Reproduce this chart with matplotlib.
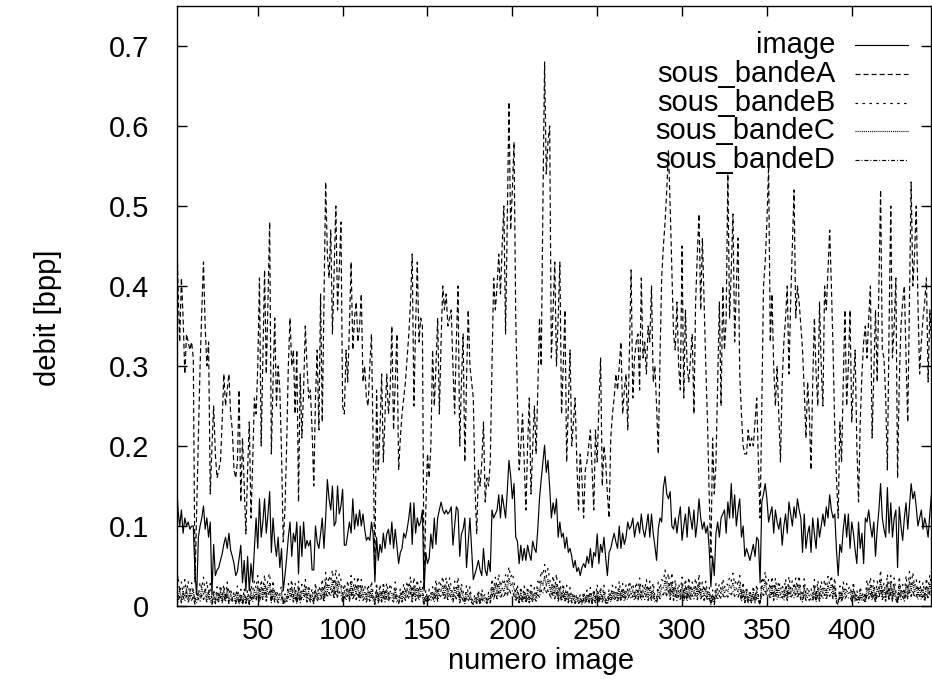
import numpy as np
import matplotlib
matplotlib.use("Agg")
import matplotlib.pyplot as plt

plt.rcParams['font.family'] = ['Liberation Sans', 'DejaVu Sans']
plt.rcParams['lines.scale_dashes'] = False

# debit per frame (A and image in 1/100 and 1/1000 bpp)
image_milli = [
    140, 158, 120, 100, 120, 91, 110, 100, 105, 96, 100, 100, 40, 14, 86, 100, 110, 125, 96, 110,
    86, 105, 14, 77, 38, 45, 48, 57, 65, 77, 86, 72, 91, 70, 62, 53, 38, 43, 60, 76,
    29, 57, 19, 62, 19, 53, 30, 72, 110, 72, 134, 86, 105, 134, 91, 115, 143, 67, 110, 80,
    62, 86, 48, 72, 19, 38, 60, 86, 105, 62, 91, 80, 105, 40, 100, 62, 105, 72, 82, 75,
    82, 45, 45, 100, 80, 72, 90, 110, 72, 110, 158, 134, 120, 150, 100, 105, 150, 115, 125, 146,
    76, 76, 90, 105, 91, 134, 96, 115, 100, 120, 100, 115, 96, 82, 86, 82, 105, 90, 30, 86,
    57, 77, 67, 91, 72, 90, 96, 77, 105, 72, 96, 75, 53, 67, 72, 91, 85, 96, 110, 129,
    77, 129, 91, 110, 100, 105, 120, 19, 67, 53, 60, 90, 72, 110, 77, 110, 120, 130, 120, 115,
    120, 115, 118, 124, 76, 100, 124, 120, 62, 90, 96, 110, 48, 80, 110, 72, 33, 40, 48, 57,
    45, 38, 72, 45, 38, 57, 43, 120, 110, 115, 120, 139, 110, 139, 125, 110, 143, 182, 163, 134,
    153, 86, 81, 53, 76, 57, 72, 57, 76, 65, 57, 81, 72, 67, 96, 134, 158, 180, 201, 167,
    182, 148, 110, 129, 115, 134, 86, 105, 86, 91, 72, 86, 67, 72, 62, 48, 57, 43, 48, 38,
    48, 53, 48, 62, 53, 72, 48, 67, 62, 90, 53, 77, 67, 86, 60, 38, 67, 72, 82, 91,
    80, 72, 100, 72, 91, 77, 86, 105, 96, 100, 110, 86, 100, 105, 91, 115, 96, 86, 100, 115,
    86, 115, 91, 75, 57, 96, 110, 105, 148, 162, 140, 134, 143, 100, 96, 110, 91, 110, 124, 82,
    100, 115, 86, 124, 110, 96, 120, 86, 105, 134, 110, 96, 105, 91, 100, 72, 24, 62, 38, 91,
    105, 86, 110, 115, 120, 91, 130, 110, 153, 110, 139, 100, 120, 134, 86, 100, 62, 72, 65, 57,
    67, 77, 62, 86, 82, 29, 130, 140, 153, 134, 105, 115, 124, 91, 120, 105, 96, 110, 76, 100,
    115, 91, 130, 115, 100, 124, 110, 134, 120, 110, 67, 115, 72, 90, 100, 67, 110, 90, 72, 110,
    86, 100, 115, 100, 124, 110, 139, 120, 110, 115, 70, 38, 77, 67, 96, 115, 86, 115, 72, 105,
    91, 70, 53, 105, 72, 91, 53, 110, 105, 120, 100, 86, 105, 62, 96, 120, 153, 110, 96, 86,
    148, 91, 129, 86, 110, 120, 48, 124, 100, 82, 110, 129, 96, 124, 153, 134, 143, 124, 100, 110,
    120, 96, 110, 100, 86, 115, 140,
]

bandeA_centi = [
    47, 49, 40, 33, 41, 36, 29, 34, 33, 32, 33, 31, 3, 12, 21, 30, 37, 43, 35, 30,
    33, 14, 20, 25, 19, 16, 17, 18, 23, 29, 25, 27, 29, 24, 22, 17, 16, 18, 27, 13,
    21, 15, 9, 17, 23, 11, 18, 26, 24, 30, 41, 20, 31, 42, 29, 38, 48, 19, 28, 36,
    25, 30, 27, 19, 8, 12, 20, 30, 36, 30, 32, 24, 32, 13, 29, 21, 27, 35, 30, 26,
    27, 22, 15, 26, 32, 22, 39, 23, 38, 53, 44, 41, 47, 34, 42, 50, 37, 42, 48, 25,
    24, 32, 28, 35, 43, 32, 36, 38, 33, 35, 39, 28, 30, 26, 25, 30, 34, 20, 4, 27,
    17, 22, 29, 18, 24, 29, 24, 27, 35, 22, 28, 34, 17, 21, 24, 26, 28, 31, 34, 38,
    44, 25, 35, 43, 33, 36, 35, 2, 12, 19, 16, 20, 32, 25, 30, 36, 24, 33, 40, 37,
    39, 35, 36, 37, 30, 24, 33, 40, 20, 28, 34, 18, 28, 37, 30, 28, 26, 15, 9, 17,
    15, 18, 23, 13, 16, 15, 18, 30, 41, 37, 40, 44, 39, 45, 50, 34, 48, 63, 47, 52,
    58, 36, 26, 17, 20, 24, 18, 12, 20, 26, 14, 20, 25, 19, 27, 36, 30, 50, 68, 54,
    58, 60, 31, 37, 43, 30, 36, 43, 24, 30, 37, 18, 25, 32, 20, 23, 26, 18, 12, 19,
    16, 11, 17, 18, 20, 22, 17, 12, 22, 18, 25, 31, 15, 20, 18, 14, 11, 21, 24, 26,
    29, 27, 30, 33, 24, 27, 29, 22, 32, 42, 26, 31, 33, 34, 27, 41, 31, 33, 29, 35,
    33, 40, 28, 30, 25, 19, 31, 41, 45, 48, 52, 57, 50, 42, 34, 32, 38, 30, 27, 45,
    26, 37, 30, 28, 31, 34, 24, 38, 44, 49, 37, 46, 38, 30, 23, 14, 6, 21, 14, 18,
    28, 38, 25, 40, 32, 36, 54, 36, 42, 49, 33, 40, 46, 29, 24, 20, 19, 19, 22, 20,
    21, 20, 23, 26, 18, 11, 25, 40, 43, 48, 55, 33, 39, 30, 25, 30, 24, 18, 28, 33,
    36, 40, 29, 38, 45, 52, 36, 40, 38, 35, 32, 27, 21, 28, 24, 17, 28, 36, 29, 25,
    38, 30, 25, 40, 37, 42, 47, 40, 32, 22, 16, 11, 23, 18, 28, 37, 25, 30, 37, 23,
    28, 32, 20, 13, 23, 29, 33, 35, 31, 36, 40, 21, 29, 37, 28, 40, 52, 32, 31, 26,
    17, 35, 50, 31, 35, 41, 16, 28, 35, 38, 40, 31, 23, 38, 53, 40, 44, 50, 38, 29,
    33, 36, 38, 41, 28, 37, 33,
]

bandeB_milli = [
    32, 20, 38, 18, 30, 14, 33, 16, 31, 12, 29, 17, 6, 20, 12, 30, 22, 36, 15, 31,
    13, 28, 5, 21, 8, 24, 10, 26, 14, 27, 9, 30, 15, 22, 8, 19, 11, 25, 6, 21,
    5, 22, 6, 20, 4, 26, 18, 31, 22, 38, 16, 33, 20, 39, 14, 35, 41, 10, 32, 13,
    20, 11, 17, 25, 4, 15, 9, 28, 20, 33, 12, 29, 8, 31, 11, 27, 18, 33, 14, 26,
    12, 22, 8, 29, 13, 25, 17, 34, 14, 42, 25, 38, 30, 45, 22, 46, 24, 40, 33, 15,
    28, 18, 32, 15, 38, 19, 34, 20, 37, 16, 33, 18, 26, 14, 27, 16, 31, 15, 5, 29,
    10, 27, 12, 30, 13, 29, 15, 28, 20, 14, 30, 13, 8, 22, 12, 28, 16, 31, 22, 37,
    13, 36, 18, 33, 17, 31, 24, 3, 20, 8, 21, 15, 24, 14, 33, 15, 32, 26, 37, 20,
    36, 19, 35, 24, 12, 31, 22, 36, 10, 28, 18, 8, 26, 17, 24, 9, 6, 15, 8, 20,
    7, 21, 12, 15, 8, 17, 11, 34, 20, 36, 22, 40, 24, 33, 26, 39, 30, 49, 36, 41,
    30, 16, 27, 9, 24, 10, 25, 9, 24, 10, 26, 11, 23, 15, 31, 26, 44, 38, 52, 36,
    47, 34, 20, 38, 22, 40, 15, 31, 15, 28, 12, 26, 11, 23, 10, 17, 8, 15, 7, 14,
    6, 18, 8, 20, 9, 23, 7, 21, 10, 27, 9, 24, 11, 26, 9, 5, 21, 12, 26, 16,
    24, 14, 31, 13, 28, 14, 27, 19, 31, 21, 28, 16, 30, 18, 35, 17, 28, 20, 33, 18,
    31, 16, 29, 12, 9, 30, 20, 33, 31, 45, 28, 41, 19, 42, 17, 33, 16, 28, 18, 36,
    15, 34, 14, 36, 18, 30, 22, 35, 19, 40, 20, 30, 18, 31, 16, 24, 4, 20, 6, 28,
    19, 28, 21, 34, 23, 29, 26, 36, 31, 41, 27, 33, 25, 38, 14, 30, 10, 24, 9, 20,
    10, 25, 9, 27, 13, 5, 36, 28, 43, 26, 33, 20, 37, 16, 35, 19, 31, 20, 27, 17,
    34, 16, 37, 22, 32, 21, 35, 22, 38, 18, 12, 34, 15, 24, 17, 22, 14, 33, 12, 32,
    14, 31, 21, 33, 19, 37, 27, 38, 20, 35, 10, 6, 25, 11, 30, 20, 28, 21, 25, 14,
    30, 11, 20, 10, 24, 13, 18, 9, 33, 20, 36, 16, 32, 10, 31, 22, 45, 17, 29, 15,
    40, 16, 38, 15, 35, 18, 8, 37, 17, 27, 14, 38, 20, 43, 27, 42, 24, 33, 18, 31,
    17, 30, 14, 35, 21, 39, 24,
]

bandeC_milli = [
    14, 25, 10, 21, 8, 19, 12, 22, 9, 18, 13, 20, 5, 8, 16, 11, 23, 14, 21, 10,
    19, 9, 4, 15, 6, 17, 8, 19, 7, 20, 9, 22, 6, 15, 10, 13, 5, 17, 4, 14,
    3, 15, 5, 13, 3, 18, 9, 21, 12, 25, 10, 24, 13, 27, 11, 23, 28, 7, 22, 9,
    15, 7, 12, 17, 3, 10, 6, 20, 13, 24, 9, 20, 5, 22, 8, 19, 13, 23, 9, 18,
    8, 14, 6, 20, 10, 17, 12, 24, 9, 30, 18, 27, 20, 32, 15, 31, 17, 29, 22, 10,
    19, 12, 22, 10, 27, 13, 24, 14, 26, 11, 23, 12, 18, 9, 19, 11, 22, 10, 4, 20,
    7, 18, 8, 21, 9, 20, 10, 19, 14, 9, 21, 8, 5, 16, 8, 19, 11, 22, 15, 26,
    9, 25, 12, 23, 11, 22, 17, 2, 13, 6, 14, 10, 17, 9, 23, 10, 22, 18, 26, 13,
    25, 13, 24, 16, 8, 22, 15, 26, 7, 20, 12, 5, 18, 11, 17, 6, 4, 10, 5, 14,
    4, 15, 8, 11, 5, 12, 7, 24, 14, 26, 15, 28, 17, 23, 18, 28, 20, 35, 25, 29,
    21, 10, 19, 6, 17, 7, 18, 6, 17, 7, 18, 8, 16, 10, 22, 18, 31, 26, 37, 25,
    33, 23, 14, 26, 15, 28, 10, 22, 10, 20, 8, 18, 7, 16, 7, 12, 5, 11, 4, 10,
    4, 12, 5, 14, 6, 16, 5, 15, 7, 19, 6, 17, 8, 18, 6, 3, 15, 8, 18, 11,
    17, 9, 22, 9, 20, 10, 19, 13, 22, 14, 20, 11, 21, 12, 25, 11, 20, 14, 24, 12,
    22, 11, 20, 8, 6, 21, 14, 23, 22, 32, 19, 29, 13, 30, 12, 24, 11, 20, 12, 26,
    10, 25, 10, 26, 12, 22, 15, 25, 13, 29, 14, 21, 12, 22, 11, 17, 3, 14, 4, 20,
    13, 20, 15, 24, 16, 21, 18, 26, 22, 29, 19, 23, 17, 27, 10, 21, 7, 17, 6, 14,
    7, 18, 6, 19, 9, 3, 26, 20, 31, 18, 23, 14, 26, 11, 25, 13, 22, 14, 19, 12,
    24, 11, 26, 15, 22, 15, 25, 16, 27, 13, 8, 24, 11, 17, 12, 15, 10, 23, 8, 23,
    10, 22, 15, 23, 13, 26, 19, 27, 14, 25, 7, 4, 17, 8, 21, 14, 20, 15, 18, 10,
    21, 8, 14, 7, 17, 9, 13, 6, 23, 14, 26, 11, 23, 7, 22, 16, 32, 12, 21, 10,
    29, 11, 27, 10, 25, 13, 5, 27, 12, 19, 10, 27, 14, 31, 19, 30, 17, 24, 13, 22,
    12, 21, 10, 25, 15, 28, 17,
]

bandeD_milli = [
    8, 16, 5, 13, 4, 12, 6, 13, 5, 11, 7, 12, 2, 4, 10, 6, 15, 8, 13, 5,
    12, 5, 2, 9, 3, 10, 4, 12, 4, 13, 5, 14, 3, 9, 6, 8, 3, 11, 2, 9,
    2, 9, 3, 8, 2, 11, 5, 13, 7, 16, 5, 15, 8, 17, 6, 14, 18, 4, 14, 5,
    9, 4, 7, 11, 2, 6, 4, 12, 8, 15, 5, 12, 3, 14, 4, 11, 8, 15, 5, 11,
    5, 9, 3, 13, 6, 11, 7, 15, 5, 19, 11, 17, 12, 21, 9, 20, 10, 18, 14, 5,
    12, 7, 14, 6, 17, 8, 15, 8, 16, 7, 14, 7, 11, 5, 12, 6, 14, 6, 2, 13,
    4, 11, 5, 13, 5, 12, 6, 12, 8, 5, 13, 5, 3, 10, 5, 12, 7, 14, 9, 17,
    5, 16, 7, 15, 7, 14, 10, 1, 8, 3, 9, 6, 11, 5, 15, 6, 14, 11, 17, 8,
    16, 8, 15, 10, 5, 14, 9, 16, 4, 12, 7, 3, 11, 6, 11, 4, 2, 7, 3, 9,
    2, 9, 5, 7, 3, 8, 4, 15, 8, 17, 9, 18, 10, 15, 11, 18, 13, 22, 16, 19,
    13, 6, 12, 4, 11, 4, 11, 4, 11, 4, 11, 5, 10, 6, 14, 11, 20, 16, 23, 16,
    21, 14, 9, 17, 9, 18, 6, 14, 6, 13, 5, 11, 4, 10, 4, 8, 3, 7, 3, 6,
    2, 8, 3, 9, 3, 10, 3, 9, 4, 12, 4, 11, 5, 11, 4, 2, 10, 5, 12, 7,
    11, 5, 14, 6, 13, 6, 12, 8, 14, 9, 13, 7, 13, 7, 16, 7, 13, 8, 15, 7,
    14, 7, 13, 5, 4, 14, 9, 15, 14, 20, 12, 19, 8, 19, 7, 15, 7, 13, 7, 17,
    6, 16, 6, 17, 7, 14, 9, 16, 8, 19, 9, 14, 7, 14, 7, 11, 2, 9, 2, 13,
    8, 13, 9, 15, 10, 14, 11, 17, 14, 19, 12, 15, 11, 17, 6, 13, 4, 11, 4, 9,
    4, 11, 4, 12, 6, 2, 17, 13, 20, 12, 15, 9, 17, 7, 16, 8, 14, 9, 12, 7,
    16, 7, 17, 10, 14, 10, 16, 10, 17, 8, 5, 15, 7, 11, 7, 10, 6, 15, 5, 15,
    6, 14, 9, 15, 8, 17, 12, 17, 9, 16, 4, 2, 11, 5, 13, 9, 13, 10, 11, 6,
    13, 5, 9, 4, 11, 6, 8, 4, 15, 9, 17, 7, 15, 4, 14, 10, 21, 8, 13, 6,
    19, 7, 17, 6, 16, 8, 3, 17, 8, 12, 6, 17, 9, 20, 12, 19, 11, 15, 8, 14,
    8, 13, 6, 16, 9, 18, 11,
]

series_names = ["image", "sous_bandeA", "sous_bandeB", "sous_bandeC", "sous_bandeD"]
xticks = [50, 100, 150, 200, 250, 300, 350, 400]
yticks = [0, 0.1, 0.2, 0.3, 0.4, 0.5, 0.6, 0.7]
ytick_labels = ["0", "0.1", "0.2", "0.3", "0.4", "0.5", "0.6", "0.7"]

series = [
    np.array(image_milli) / 1000.0,
    np.array(bandeA_centi) / 100.0,
    np.array(bandeB_milli) / 1000.0,
    np.array(bandeC_milli) / 1000.0,
    np.array(bandeD_milli) / 1000.0,
]
# gnuplot-like line types
styles = [
    "-",
    (0, (3.6, 2.2)),
    (0, (1.8, 3.2)),
    (0, (0.75, 0.75)),
    (0, (2.9, 1.4, 0.7, 1.4)),
]

fig = plt.figure(figsize=(9.32, 6.86), dpi=100)
ax = fig.add_axes([177 / 932, 80 / 686, 754 / 932, 600 / 686])

for vals, ls in zip(series, styles):
    frames = np.arange(1, len(vals) + 1)
    ax.plot(frames, vals, color="black", linewidth=0.85, linestyle=ls)

ax.set_xlim(2.4, 446.7)
ax.set_ylim(0, 0.75)
ax.set_xticks(xticks)
ax.set_yticks(yticks)
ax.set_yticklabels(ytick_labels)
ax.tick_params(direction="in", length=7, width=1, top=True, right=True,
               labelsize=21)
ax.tick_params(axis="y", pad=20)
ax.tick_params(axis="x", pad=8)
for sp in ax.spines.values():
    sp.set_linewidth(1.0)

ax.set_xlabel("numero image", fontsize=21)
ax.set_ylabel("debit [bpp]", fontsize=21)
ax.xaxis.set_label_coords(0.483, -0.068)
ax.yaxis.set_label_coords(-0.152, 0.48)

# key, top right like gnuplot
key_y = 0.935
for name, ls in zip(series_names, styles):
    ax.text(0.873, key_y, name, transform=ax.transAxes, ha="right",
            va="center", fontsize=21)
    ax.plot([0.899, 0.970], [key_y, key_y], transform=ax.transAxes,
            color="black", linewidth=0.85, linestyle=ls, clip_on=False)
    key_y -= 0.048

fig.savefig("out.png", dpi=100)
